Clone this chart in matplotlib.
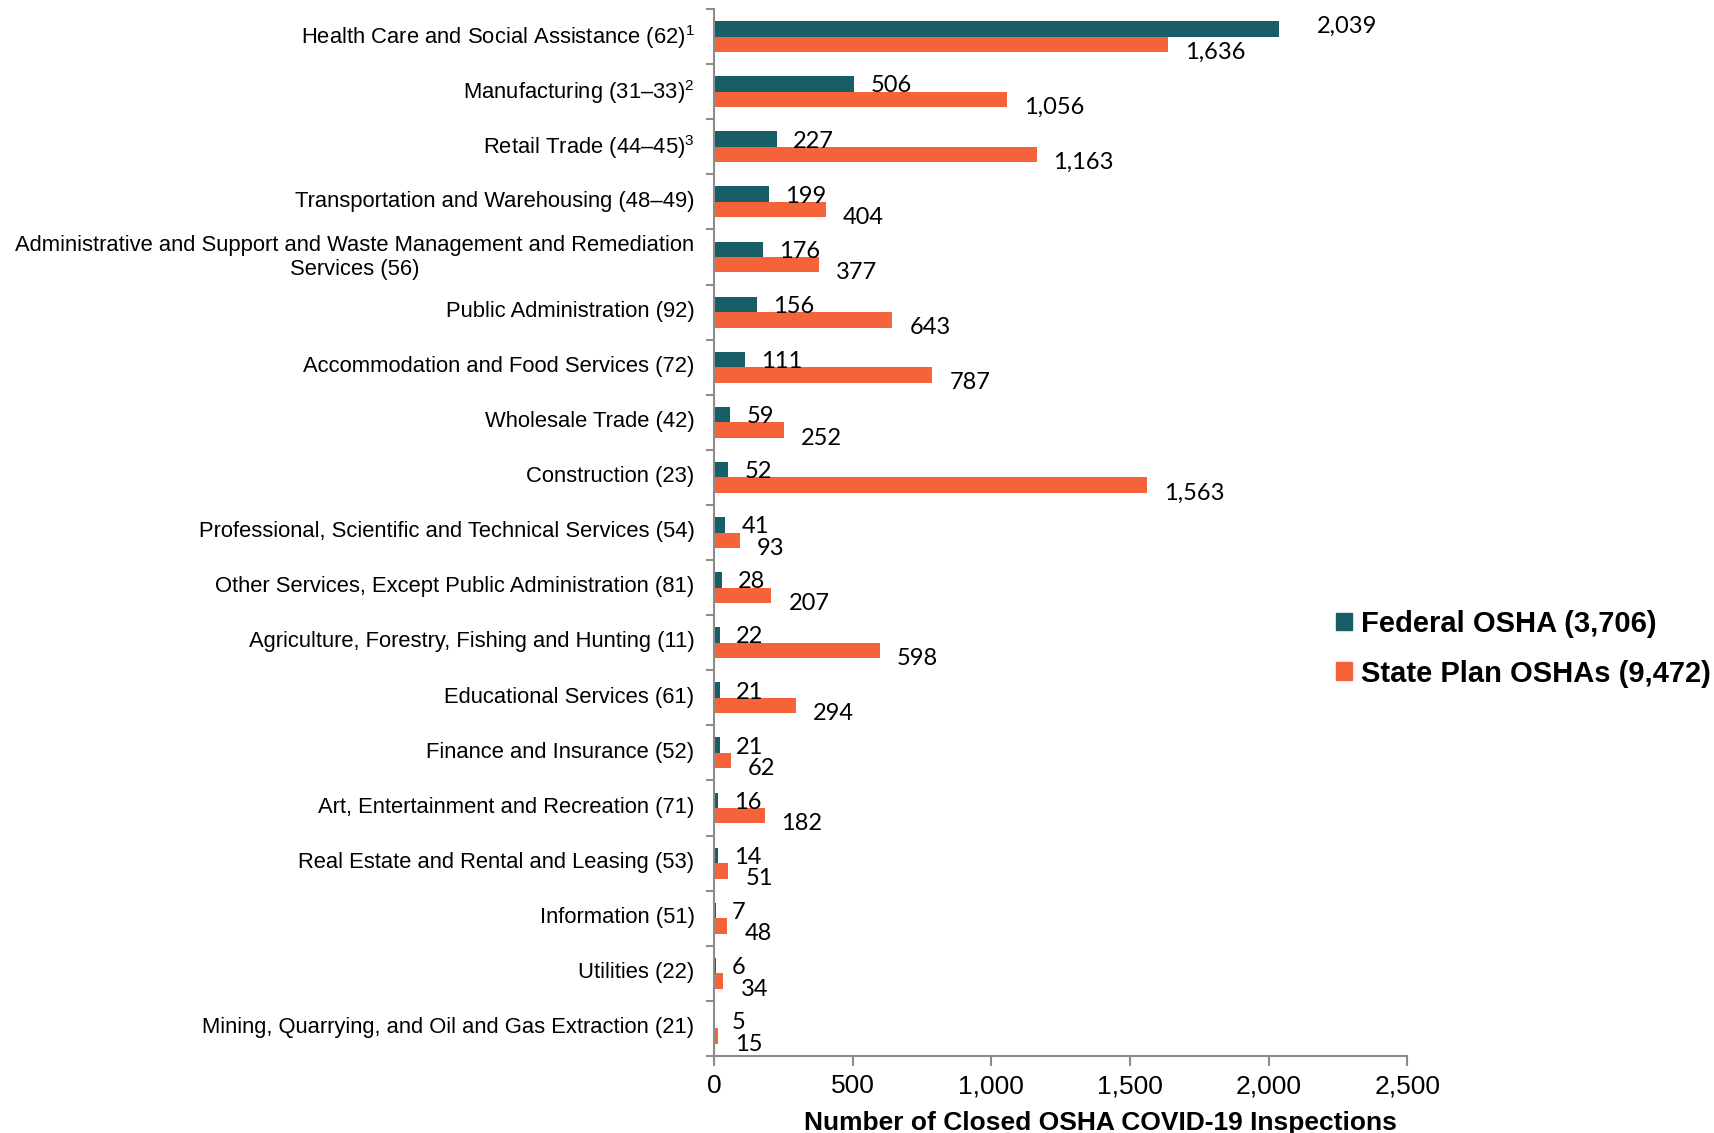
import matplotlib
matplotlib.use('Agg')
import matplotlib.pyplot as plt
import numpy as np
from matplotlib.patches import Patch

# 자료
categories = [
    'Health Care and Social Assistance (62)$^{1}$',
    'Manufacturing (31\u201333)$^{2}$',
    'Retail Trade (44\u201345)$^{3}$',
    'Transportation and Warehousing (48\u201349)',
    'Administrative and Support and Waste Management and Remediation\nServices (56)',
    'Public Administration (92)',
    'Accommodation and Food Services (72)',
    'Wholesale Trade (42)',
    'Construction (23)',
    'Professional, Scientific and Technical Services (54)',
    'Other Services, Except Public Administration (81)',
    'Agriculture, Forestry, Fishing and Hunting (11)',
    'Educational Services (61)',
    'Finance and Insurance (52)',
    'Art, Entertainment and Recreation (71)',
    'Real Estate and Rental and Leasing (53)',
    'Information (51)',
    'Utilities (22)',
    'Mining, Quarrying, and Oil and Gas Extraction (21)',
]
federal = [2039, 506, 227, 199, 176, 156, 111, 59, 52, 41, 28, 22, 21, 21, 16, 14, 7, 6, 5]
state = [1636, 1056, 1163, 404, 377, 643, 787, 252, 1563, 93, 207, 598, 294, 62, 182, 51, 48, 34, 15]
legend_labels = ['Federal OSHA (3,706)', 'State Plan OSHAs (9,472)']
xticks = [0, 500, 1000, 1500, 2000, 2500]

teal = '#175E66'
orange = '#F5633A'
grey = '#8C8C8C'

plt.rcParams['font.family'] = ['Liberation Sans', 'DejaVu Sans']
plt.rcParams['mathtext.fontset'] = 'custom'
plt.rcParams['mathtext.rm'] = 'Liberation Sans'
plt.rcParams['mathtext.it'] = 'Liberation Sans'
plt.rcParams['mathtext.default'] = 'regular'

fig = plt.figure(figsize=(17.14, 11.33), dpi=100)
ax = fig.add_axes([0.4166, 0.068, 0.821 - 0.4166, 0.992 - 0.068])

y = np.arange(len(categories))
h = 0.28
ax.barh(y - h / 2, federal, height=h, color=teal)
ax.barh(y + h / 2, state, height=h, color=orange)

ax.set_ylim(len(categories) - 0.5, -0.5)
ax.set_xlim(0, 2500)

# 데이터 라벨
for i, v in enumerate(federal):
    dx, dy = (37, 3) if i == 0 else (16, -2)
    ax.annotate(f'{v:,}', (v, i - h / 2), xytext=(dx, dy), textcoords='offset pixels',
                ha='left', va='center', fontsize=17, family=['Lato', 'DejaVu Sans'])
for i, v in enumerate(state):
    ax.annotate(f'{v:,}', (v, i + h / 2), xytext=(17, -8), textcoords='offset pixels',
                ha='left', va='center', fontsize=17, family=['Lato', 'DejaVu Sans'])

# 축 (라벨은 살짝 위로)
ax.set_yticks(y - 0.06)
ax.set_yticklabels(categories, fontsize=15.8)
for lab in ax.get_yticklabels():
    lab.set_multialignment('center')
ax.tick_params(axis='y', which='major', length=0, pad=14)
ax.set_yticks(np.arange(-0.5, len(categories), 1), minor=True)
ax.tick_params(axis='y', which='minor', length=6, color=grey, width=1.5, direction='out')

ax.set_xticks(xticks)
ax.set_xticklabels([f'{t:,}' for t in xticks], fontsize=19)
ax.tick_params(axis='x', length=7, color=grey, width=1.5, pad=6)
ax.set_xlabel('Number of Closed OSHA COVID-19 Inspections', fontsize=19, fontweight='bold', labelpad=9)
ax.xaxis.label.set_x(0.557)

for s in ['top', 'right']:
    ax.spines[s].set_visible(False)
for s in ['left', 'bottom']:
    ax.spines[s].set_color(grey)
    ax.spines[s].set_linewidth(1.5)

handles = [Patch(color=teal), Patch(color=orange)]
fig.legend(handles, legend_labels, loc='center left', bbox_to_anchor=(0.7795, 0.4275),
           frameon=False, prop={'weight': 'bold', 'size': 21},
           handlelength=0.55, handleheight=0.55, handletextpad=0.3,
           labelspacing=0.75, borderpad=0, borderaxespad=0)

fig.savefig('out.png', dpi=100)
